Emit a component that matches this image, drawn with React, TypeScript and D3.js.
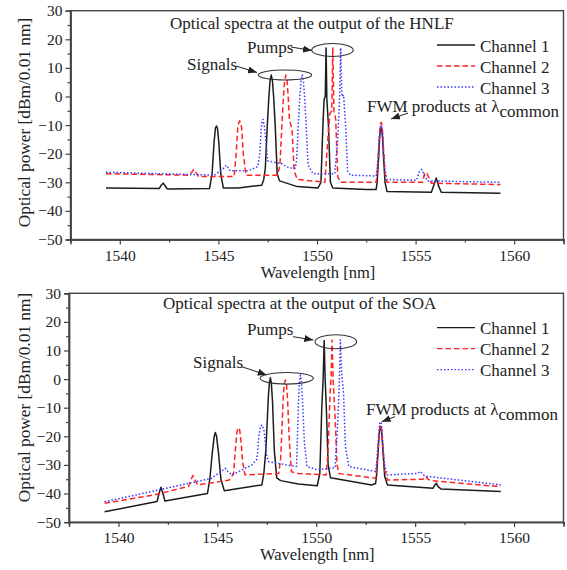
import React, { useEffect, useRef } from 'react';
import * as d3 from 'd3';

type Pt = [number, number];

const W = 567;
const H = 570;

const xTicks = [1540, 1545, 1550, 1555, 1560];
const xMinor = [1537.5, 1542.5, 1547.5, 1552.5, 1557.5, 1562.5];
const yTicks = [-50, -40, -30, -20, -10, 0, 10, 20, 30];
const yMinor = [-45, -35, -25, -15, -5, 5, 15, 25];

const channelNames = ['Channel 1', 'Channel 2', 'Channel 3'];
const channelColors = ['#1c1c1c', '#ff2424', '#3838ff'];
const channelDash = [null, '5.5,3', '1.5,2'];

// spectra at the output of the HNLF  [wavelength nm, dBm]
const hnlfCh1: Pt[] = [
  [1539.3, -32], [1542.0, -32.2], [1542.1, -31], [1542.2, -30.3], [1542.3, -31.2], [1542.4, -32.3],
  [1544.55, -32.2], [1544.68, -27], [1544.78, -16], [1544.85, -11], [1544.9, -10.3], [1544.95, -11],
  [1545.02, -16], [1545.12, -27], [1545.25, -32], [1546.0, -32], [1547.2, -31], [1547.3, -29],
  [1547.38, -25], [1547.48, -10], [1547.56, 0], [1547.62, 5.5], [1547.68, 7.5], [1547.74, 5.5],
  [1547.8, 0], [1547.88, -10], [1547.98, -27], [1548.1, -29.5], [1549.0, -31.5], [1550.05, -32],
  [1550.2, -30], [1550.3, -10], [1550.36, -1], [1550.42, 0], [1550.46, 17], [1550.5, -1], [1550.58, -10],
  [1550.68, -30], [1550.8, -32], [1552.5, -32.5], [1553.0, -32.5], [1553.05, -30], [1553.12, -22],
  [1553.18, -14], [1553.22, -11.5], [1553.25, -11], [1553.28, -11.5], [1553.32, -14], [1553.38, -22],
  [1553.45, -30], [1553.55, -33.2], [1555.8, -33.5], [1555.95, -30.5], [1556.05, -28.5],
  [1556.15, -31], [1556.3, -33.5], [1559.3, -33.8],
];
const hnlfCh2: Pt[] = [
  [1539.3, -27], [1543.5, -27.5], [1543.65, -26.5], [1543.75, -25.5], [1543.85, -26.5], [1544.0, -28],
  [1545.8, -28], [1545.9, -20], [1545.98, -11], [1546.04, -9], [1546.08, -8.5], [1546.12, -9],
  [1546.18, -11], [1546.26, -20], [1546.4, -27.5], [1548.0, -27.5], [1548.12, -24], [1548.22, -10],
  [1548.3, 0], [1548.36, 5.5], [1548.42, 7.5], [1548.48, 5.5], [1548.54, 0], [1548.6, -8], [1548.68, -10],
  [1548.74, -12], [1548.84, -26], [1549.0, -29], [1550.4, -30], [1550.55, -15], [1550.65, -6],
  [1550.75, -5], [1550.8, 17], [1550.86, -5], [1550.95, -8], [1551.05, -28], [1551.2, -30],
  [1553.0, -30], [1553.05, -27], [1553.12, -19], [1553.18, -12], [1553.22, -9.5], [1553.25, -9],
  [1553.28, -9.5], [1553.32, -12], [1553.38, -19], [1553.45, -27], [1553.55, -30], [1555.35, -30],
  [1555.45, -27], [1555.55, -26.5], [1555.65, -28], [1555.8, -30.3], [1559.3, -30.8],
];
const hnlfCh3: Pt[] = [
  [1539.3, -26.5], [1544.8, -27.5], [1545.2, -25.5], [1545.4, -24], [1545.6, -26], [1546.5, -26],
  [1547.0, -24.5], [1547.1, -20], [1547.17, -11], [1547.22, -8.5], [1547.26, -8], [1547.32, -10],
  [1547.4, -15], [1547.5, -22.5], [1548.2, -23.5], [1548.6, -25], [1548.9, -25], [1548.97, -22],
  [1549.05, -10], [1549.13, 0], [1549.19, 5.5], [1549.25, 7.5], [1549.31, 5.5], [1549.37, 0],
  [1549.45, -10], [1549.55, -24], [1549.8, -27], [1550.9, -27], [1551.05, -15], [1551.15, 0],
  [1551.2, 17], [1551.26, 0], [1551.35, 0.5], [1551.45, -10], [1551.55, -26], [1551.7, -27.5],
  [1553.0, -27.8], [1553.05, -25], [1553.12, -19], [1553.18, -13], [1553.22, -10.5], [1553.25, -10],
  [1553.28, -10.5], [1553.32, -13], [1553.38, -20], [1553.45, -26], [1553.55, -29],
  [1555.05, -29.3], [1555.2, -26], [1555.3, -25.5], [1555.45, -27.5], [1555.6, -29.5], [1559.3, -30],
];

// spectra at the output of the SOA
const soaCh1: Pt[] = [
  [1539.3, -46.4], [1541.95, -42.8], [1542.05, -40], [1542.15, -37.8], [1542.25, -40], [1542.35, -42.6],
  [1544.5, -40], [1544.62, -35], [1544.74, -26], [1544.84, -20], [1544.9, -18.7], [1544.96, -20],
  [1545.06, -26], [1545.18, -35], [1545.35, -39], [1547.25, -37], [1547.35, -33], [1547.45, -25],
  [1547.52, -15], [1547.58, -6], [1547.63, -1.5], [1547.68, 0.5], [1547.73, -1.5], [1547.79, -8],
  [1547.88, -25], [1548.0, -34.5], [1548.2, -35.5], [1549.1, -36.7], [1550.05, -37.3],
  [1550.18, -33], [1550.28, -10], [1550.35, 0.3], [1550.4, 13.5], [1550.45, 0], [1550.52, -12],
  [1550.6, -30], [1550.72, -34.5], [1552.8, -37], [1553.0, -36.5], [1553.06, -33], [1553.12, -26],
  [1553.18, -19.5], [1553.22, -17], [1553.25, -16.6], [1553.28, -17], [1553.32, -19.5], [1553.38, -26],
  [1553.46, -34], [1553.6, -37], [1555.9, -38.2], [1556.0, -37], [1556.07, -36.4], [1556.15, -37.5],
  [1556.3, -38.4], [1559.33, -39.3],
];
const soaCh2: Pt[] = [
  [1539.3, -43.4], [1541.8, -40.5], [1543.55, -37.5], [1543.68, -35], [1543.76, -33.7], [1543.85, -35],
  [1544.0, -37], [1545.6, -35.3], [1545.82, -33], [1545.92, -24], [1545.99, -18.5], [1546.04, -17.3],
  [1546.08, -17], [1546.13, -17.8], [1546.2, -22], [1546.28, -29], [1546.4, -33.5], [1548.1, -33],
  [1548.2, -28], [1548.28, -15], [1548.34, -5], [1548.39, -1.5], [1548.44, -0.3], [1548.49, -1.5],
  [1548.55, -7], [1548.64, -22], [1548.75, -32.4], [1549.1, -33], [1550.5, -33.5], [1550.6, -25],
  [1550.7, -5], [1550.75, 0], [1550.8, 13.7], [1550.86, -1], [1550.95, -13], [1551.05, -30],
  [1551.15, -33], [1553.0, -34.7], [1553.06, -31], [1553.12, -25], [1553.18, -19], [1553.22, -16.4],
  [1553.25, -16], [1553.28, -16.4], [1553.32, -19], [1553.38, -25], [1553.46, -32], [1553.6, -35.3],
  [1555.4, -35], [1555.53, -34], [1555.65, -35], [1555.8, -35.5], [1559.33, -37.6],
];
const soaCh3: Pt[] = [
  [1539.3, -42.9], [1544.7, -34.7], [1545.25, -32], [1545.4, -31.2], [1545.55, -32.5], [1545.75, -33.5],
  [1546.75, -30], [1547.0, -28], [1547.1, -20], [1547.18, -16.5], [1547.26, -16], [1547.36, -18],
  [1547.5, -27], [1547.6, -28.9], [1548.5, -30], [1549.0, -30.5], [1549.04, -22], [1549.1, -8],
  [1549.15, -1], [1549.2, 1.4], [1549.25, -1], [1549.31, -8], [1549.4, -22], [1549.53, -30.6],
  [1550.05, -31.7], [1550.95, -31], [1551.05, -20], [1551.15, -5], [1551.22, 13.7], [1551.28, 2.6],
  [1551.38, -5], [1551.48, -24], [1551.65, -30.6], [1553.0, -32.3], [1553.06, -29], [1553.12, -23],
  [1553.18, -17.5], [1553.22, -15.3], [1553.25, -14.9], [1553.28, -15.3], [1553.32, -17.5],
  [1553.38, -24], [1553.46, -30.5], [1553.6, -33.5], [1555.1, -33], [1555.27, -32.3], [1555.4, -33.5],
  [1555.6, -34], [1559.33, -37],
];

const FONT = '"Liberation Serif", "Times New Roman", serif';

// panel layout (y values of annotations are relative to the panel top)
const panels = [
  {
    title: 'Optical spectra at the output of the HNLF',
    series: [hnlfCh1, hnlfCh2, hnlfCh3],
    left: 70.5, top: 10.7, yLabelMid: 111.8,
    titleX: 170, titleY: 18.3,
    signals: { tx: 187, ty: 59.3, a: [236, 55.3, 257, 61.8], e: [285, 64.3, 26.7, 5] },
    pumps: { tx: 247, ty: 42.3, a: [291, 36.3, 312, 39.8], e: [332.5, 39.3, 20.8, 6.5] },
    fwm: { tx: 367, ty: 101, a: [408, 102.3, 391, 108.3] },
  },
  {
    title: 'Optical spectra at the output of the SOA',
    series: [soaCh1, soaCh2, soaCh3],
    left: 69, top: 293.3, yLabelMid: 104.2,
    titleX: 163, titleY: 15.7,
    signals: { tx: 193, ty: 75, a: [241.7, 73.4, 266.7, 81.7], e: [286.7, 85, 26.7, 5.8] },
    pumps: { tx: 247, ty: 41.7, a: [293, 43.4, 313.3, 46.7], e: [335.8, 48.4, 20.8, 7] },
    fwm: { tx: 366, ty: 121.7, a: [395, 123.4, 381.7, 128.4] },
  },
];

const RIGHT = 563.5;
const PH = 228.8;

const App: React.FC = () => {
  const svgRef = useRef<SVGSVGElement>(null);

  useEffect(() => {
    if (!svgRef.current) return;
    const svg = d3.select(svgRef.current);
    svg.selectAll('*').remove();

    const defs = svg.append('defs');
    defs.append('marker')
      .attr('id', 'arrow')
      .attr('markerUnits', 'userSpaceOnUse')
      .attr('markerWidth', 9)
      .attr('markerHeight', 7)
      .attr('refX', 9)
      .attr('refY', 3.5)
      .attr('orient', 'auto')
      .append('path')
      .attr('d', 'M0,0 L9,3.5 L0,7 z')
      .attr('fill', '#222');

    panels.forEach(p => {
      const x = d3.scaleLinear().domain([1537.5, 1562.5]).range([p.left, RIGHT]);
      const y = d3.scaleLinear().domain([-50, 30]).range([p.top + PH, p.top]);
      const g = svg.append('g');

      // frame
      g.append('rect')
        .attr('x', p.left).attr('y', p.top)
        .attr('width', RIGHT - p.left).attr('height', PH)
        .attr('fill', 'none').attr('stroke', '#444').attr('stroke-width', 1.4);

      // axes
      const xAxis = g.append('g').attr('transform', `translate(0,${p.top + PH})`)
        .call(d3.axisBottom(x).tickValues(xTicks).tickSize(5).tickPadding(5).tickFormat(d3.format('d')));
      g.append('g').attr('transform', `translate(0,${p.top + PH})`)
        .call(d3.axisBottom(x).tickValues(xMinor).tickSize(3).tickFormat(() => ''));
      const yAxis = g.append('g').attr('transform', `translate(${p.left},0)`)
        .call(d3.axisLeft(y).tickValues(yTicks).tickSize(5).tickPadding(3).tickFormat(d3.format('d')));
      g.append('g').attr('transform', `translate(${p.left},0)`)
        .call(d3.axisLeft(y).tickValues(yMinor).tickSize(3).tickFormat(() => ''));
      g.selectAll('.domain').attr('stroke', '#444').attr('stroke-width', 1.4);
      g.selectAll('.tick line').attr('stroke', '#444').attr('stroke-width', 1.2);
      [xAxis, yAxis].forEach(a => a.selectAll('text')
        .attr('fill', '#222')
        .style('font-family', FONT)
        .style('font-size', '15.5px'));

      // axis titles
      g.append('text')
        .attr('x', (p.left + RIGHT) / 2 + 1)
        .attr('y', p.top + PH + 38)
        .attr('text-anchor', 'middle')
        .attr('fill', '#222')
        .style('font-family', FONT).style('font-size', '16.5px')
        .text('Wavelength [nm]');
      g.append('text')
        .attr('transform', `translate(30,${p.top + p.yLabelMid}) rotate(-90)`)
        .attr('text-anchor', 'middle')
        .attr('fill', '#222')
        .style('font-family', FONT).style('font-size', '17.3px')
        .text('Optical power [dBm/0.01 nm]');

      // spectra
      const line = d3.line<Pt>().x(d => x(d[0])).y(d => y(d[1]));
      p.series.forEach((s, i) => {
        g.append('path')
          .attr('d', line(s))
          .attr('fill', 'none')
          .attr('stroke', channelColors[i])
          .attr('stroke-width', 1.5)
          .attr('stroke-linejoin', 'round')
          .attr('stroke-dasharray', channelDash[i]);
      });

      // legend
      channelNames.forEach((name, i) => {
        const ly = p.top + 34.3 + i * 21;
        g.append('line')
          .attr('x1', 437).attr('x2', 475).attr('y1', ly).attr('y2', ly)
          .attr('stroke', channelColors[i]).attr('stroke-width', 1.4)
          .attr('stroke-dasharray', channelDash[i]);
        g.append('text')
          .attr('x', 480).attr('y', ly + 6.5)
          .attr('fill', '#222')
          .style('font-family', FONT).style('font-size', '17px')
          .text(name);
      });

      // title and annotations
      const txt = (tx: number, ty: number, s: string) => g.append('text')
        .attr('x', tx).attr('y', p.top + ty)
        .attr('fill', '#222')
        .style('font-family', FONT).style('font-size', '17px')
        .text(s);
      txt(p.titleX, p.titleY, p.title);

      const arrow = (a: number[]) => g.append('line')
        .attr('x1', a[0]).attr('y1', p.top + a[1]).attr('x2', a[2]).attr('y2', p.top + a[3])
        .attr('stroke', '#222').attr('stroke-width', 1)
        .attr('marker-end', 'url(#arrow)');
      const ellipse = (e: number[]) => g.append('ellipse')
        .attr('cx', e[0]).attr('cy', p.top + e[1]).attr('rx', e[2]).attr('ry', e[3])
        .attr('fill', 'none').attr('stroke', '#333').attr('stroke-width', 1.1);

      txt(p.signals.tx, p.signals.ty, 'Signals');
      arrow(p.signals.a);
      ellipse(p.signals.e);
      txt(p.pumps.tx, p.pumps.ty, 'Pumps');
      arrow(p.pumps.a);
      ellipse(p.pumps.e);
      const f = txt(p.fwm.tx, p.fwm.ty, 'FWM products at λ');
      f.append('tspan').attr('dy', 5).text('common');
      arrow(p.fwm.a);
    });
  }, []);

  return (
    <svg
      ref={svgRef}
      width={W}
      height={H}
      viewBox={`0 0 ${W} ${H}`}
      style={{ position: 'absolute', left: 0, top: 0, background: '#fff' }}
    />
  );
};

export default App;
